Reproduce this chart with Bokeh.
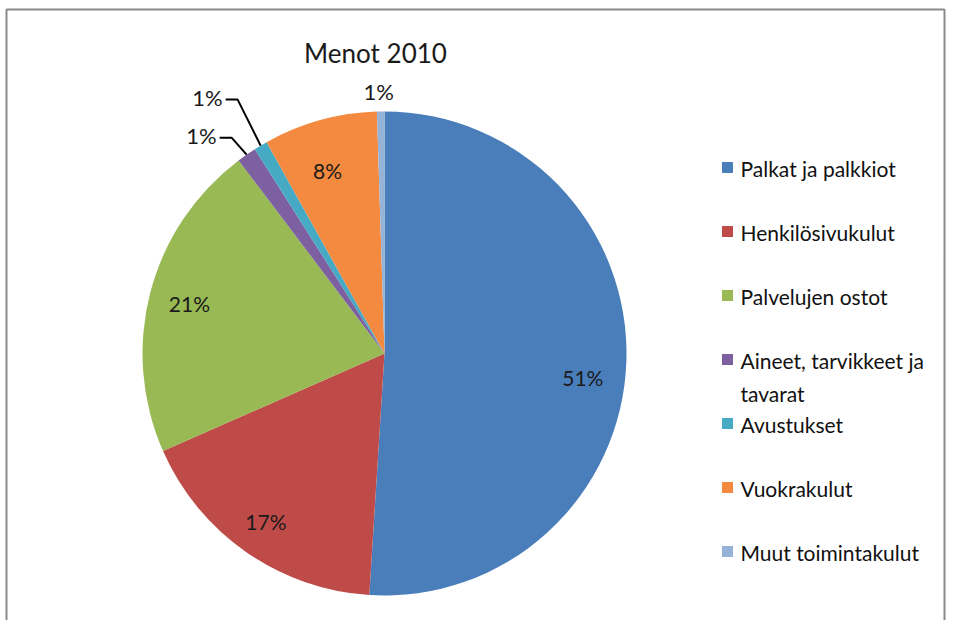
import numpy as np
from bokeh.plotting import figure
from bokeh.models import Range1d
from bokeh.core.properties import value
from bokeh.embed import file_html
from bokeh.resources import INLINE

# ---- data ----
categories = ["Palkat ja palkkiot", "Henkilösivukulut", "Palvelujen ostot",
              "Aineet, tarvikkeet ja\ntavarat", "Avustukset", "Vuokrakulut",
              "Muut toimintakulut"]
shares = [51.0, 17.4, 21.3, 1.3, 0.9, 7.6, 0.5]
labels = ["51%", "17%", "21%", "1%", "1%", "8%", "1%"]
colors = ["#4A7EBB", "#BE4B48", "#98B954", "#7D60A0", "#46AAC5", "#F38A3F", "#95B3D7"]
title = "Menot 2010"

W, H = 957, 620
FONT = value("Lato")


def Y(sy):
    return H - sy


p = figure(width=W, height=H, x_range=Range1d(0, W), y_range=Range1d(0, H),
           output_backend="svg", toolbar_location=None,
           x_axis_type=None, y_axis_type=None, min_border=0,
           outline_line_color=None, background_fill_color="white",
           border_fill_color="white")

# frame border
p.line(x=[6, 6, 944, 944], y=[Y(625), Y(9), Y(9), Y(625)], line_color="#8a8a8a", line_width=2)

# pie
cx, cy, R = 384, Y(353), 242
vals = np.array(shares, dtype=float)
cum = np.concatenate([[0.0], np.cumsum(vals)]) / vals.sum()
starts = np.pi / 2 - 2 * np.pi * cum[:-1]
ends = np.pi / 2 - 2 * np.pi * cum[1:]
p.wedge(x=cx, y=cy, radius=R, start_angle=list(starts), end_angle=list(ends),
        direction="clock", fill_color=colors, line_color=None)

mids = (starts + ends) / 2
inner = {0: (0, -18), 1: (-5, -5), 2: (-3, 0), 5: (-4, -8)}
inner_factor = 0.82
for i, (ox, oy) in inner.items():
    lx = cx + R * inner_factor * np.cos(mids[i]) + ox
    ly = cy + R * inner_factor * np.sin(mids[i]) + oy
    p.text(x=[lx], y=[ly], text=[labels[i]], text_font=FONT, text_font_size="21px",
           text_color="#1a1a1a", text_align="center", text_baseline="middle")

# outside labels with leader lines (offsets in screen px)
leader = {3: (-15, -17), 4: (-23, -46)}
for i, (dx, dy) in leader.items():
    ex = cx + R * np.cos(mids[i])
    ey = cy + R * np.sin(mids[i])
    bx, by = ex + dx, ey - dy
    p.line(x=[ex, bx, bx - 12], y=[ey, by, by], line_color="black", line_width=2)
    p.text(x=[bx - 15], y=[by + 2], text=[labels[i]], text_font=FONT, text_font_size="22px",
           text_color="#1a1a1a", text_align="right", text_baseline="middle")

i = 6
ex = cx + R * np.cos(mids[i])
ey = cy + R * np.sin(mids[i])
p.text(x=[ex - 2], y=[ey + 20], text=[labels[i]], text_font=FONT, text_font_size="22px",
       text_color="#1a1a1a", text_align="center", text_baseline="middle")

# title
p.text(x=[375], y=[Y(52)], text=[title], text_font=FONT, text_font_size="26px",
       text_color="#1a1a1a", text_align="center", text_baseline="middle")

# legend
ly0, lstep = 167, 64
for k, (name, c) in enumerate(zip(categories, colors)):
    yy = Y(ly0 + lstep * k)
    p.rect(x=[727], y=[yy], width=11, height=11, fill_color=c, line_color=None)
    p.text(x=[740], y=[yy + 12], text=[name], text_font=FONT, text_font_size="21px",
           text_color="#111111", text_align="left", text_baseline="top",
           text_line_height=1.35)

open("out.html", "w").write(file_html(p, INLINE))
